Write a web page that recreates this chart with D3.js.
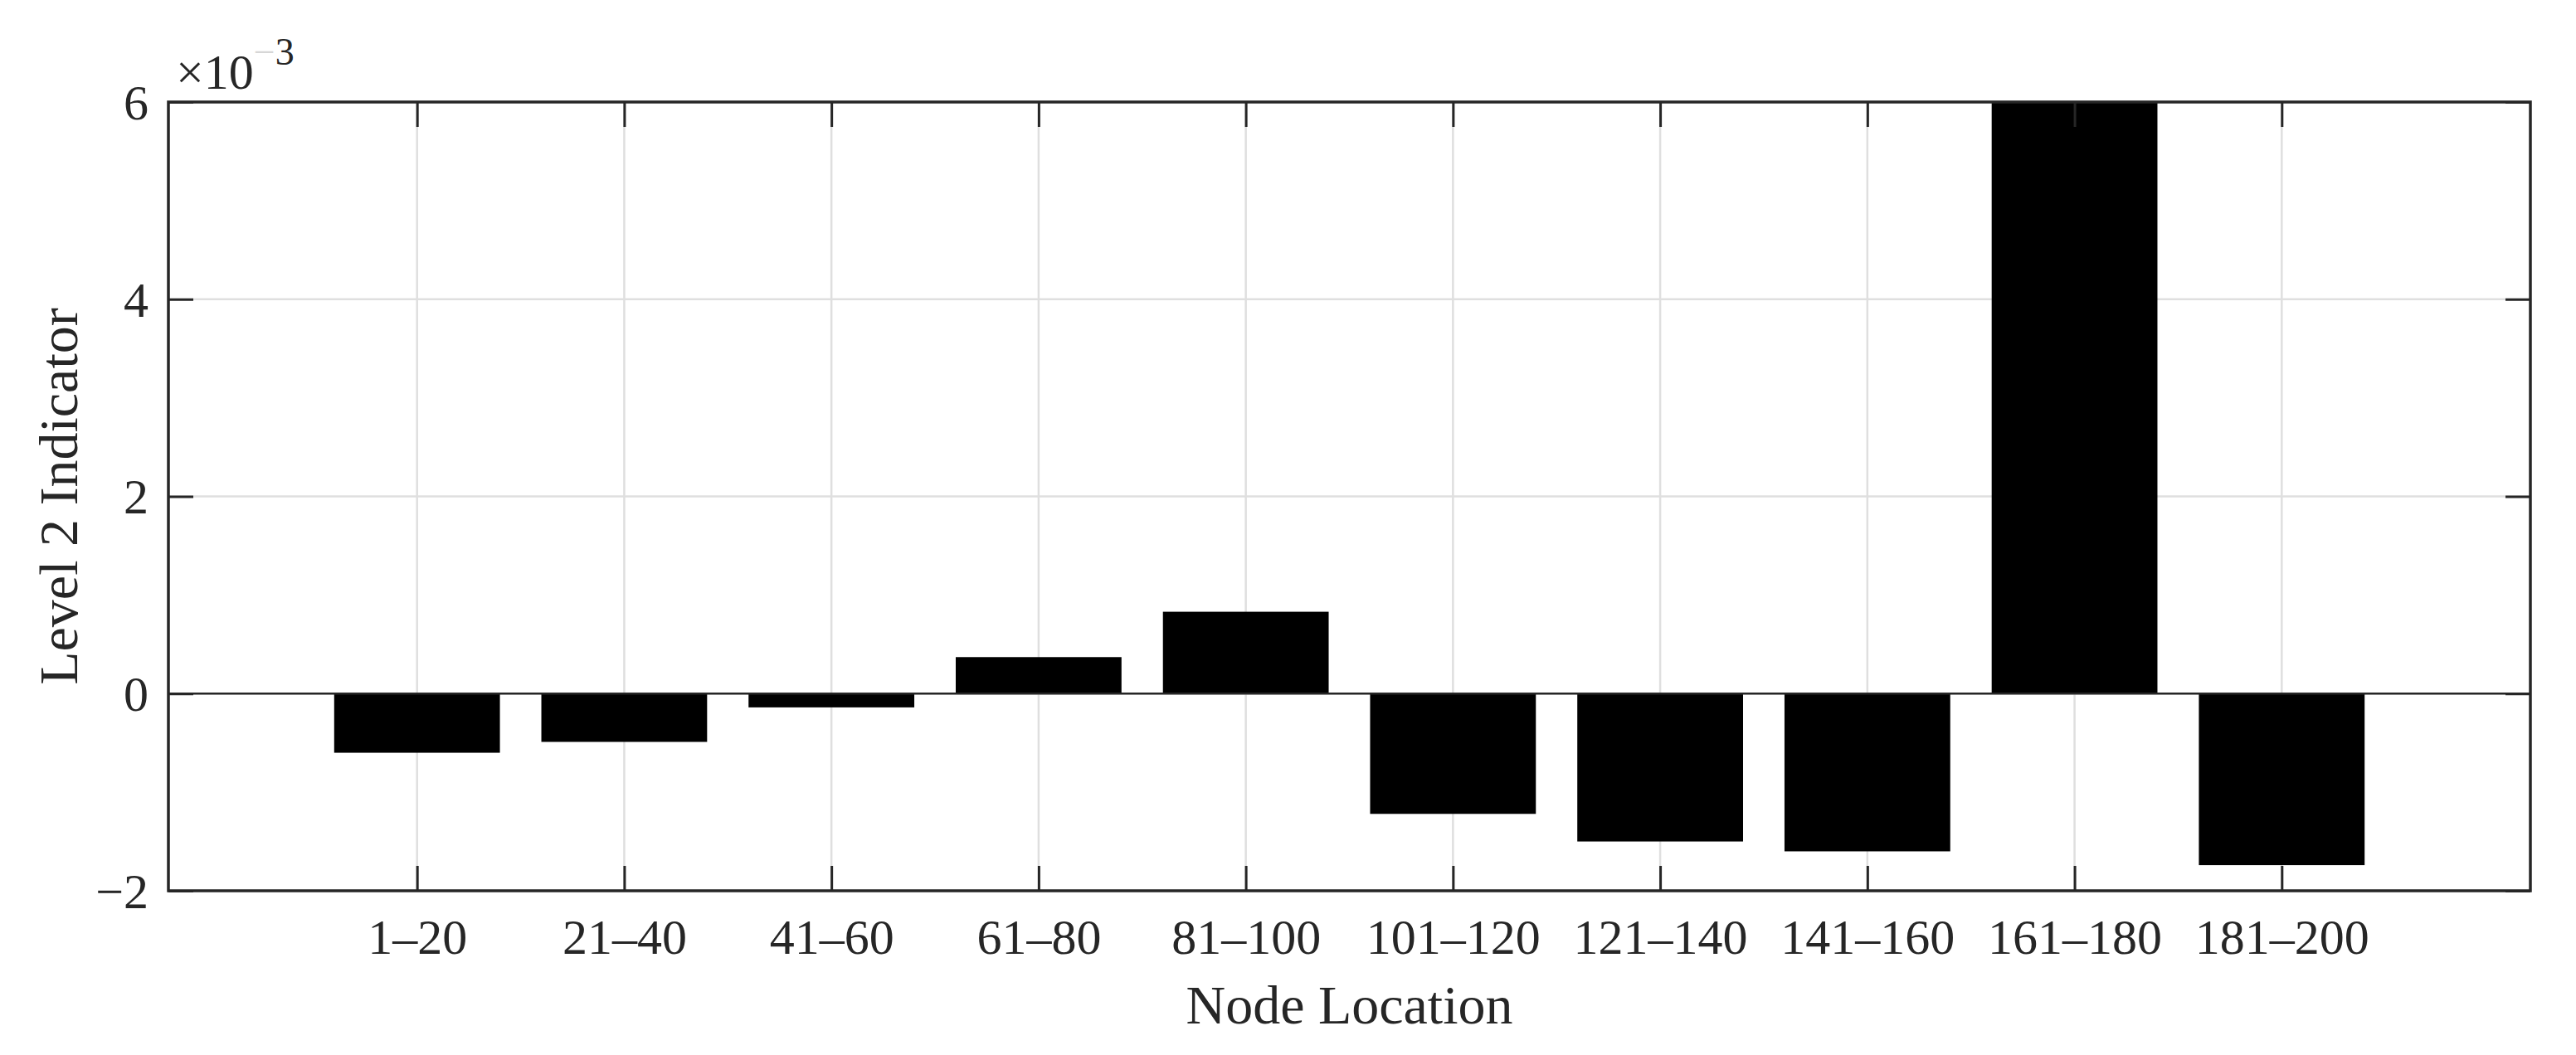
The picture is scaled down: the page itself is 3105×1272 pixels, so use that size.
<!DOCTYPE html>
<html>
<head>
<meta charset="utf-8">
<script src="https://cdn.jsdelivr.net/npm/d3@7/dist/d3.min.js"></script>
<style>
  html, body { margin: 0; padding: 0; background: #ffffff; }
  svg { display: block; }
  text { font-family: "Liberation Serif", "Times New Roman", serif; fill: #262626; }
</style>
</head>
<body>
<svg id="chart" width="3105" height="1272"></svg>
<script>
// ---- data ----
const categories = ["1–20", "21–40", "41–60", "61–80", "81–100", "101–120", "121–140", "141–160", "161–180", "181–200"];
const values = [-0.60e-3, -0.49e-3, -0.14e-3, 0.37e-3, 0.83e-3, -1.22e-3, -1.50e-3, -1.60e-3, 6.00e-3, -1.74e-3];
const yTicks = [-2e-3, 0, 2e-3, 4e-3, 6e-3];
const yTickLabels = ["−2", "0", "2", "4", "6"];
const xLabel = "Node Location";
const yLabel = "Level 2 Indicator";

// ---- layout ----
const W = 3105, H = 1272;
const m = { left: 203, right: 3050, top: 123, bottom: 1074 };
const axisColor = "#262626";
const gridColor = "#dfdfdf";
const tickLen = 30;

const svg = d3.select("#chart");

const x = d3.scaleLinear().domain([-0.2, categories.length + 1.2]).range([m.left, m.right]);
const y = d3.scaleLinear().domain([-2e-3, 6e-3]).range([m.bottom, m.top]);
const pos = (i) => x(i + 1);
const barW = x(0.8) - x(0);

// clip for plot area
svg.append("defs").append("clipPath").attr("id", "plotclip")
  .append("rect").attr("x", m.left).attr("y", m.top)
  .attr("width", m.right - m.left).attr("height", m.bottom - m.top);

// grid
const grid = svg.append("g");
grid.selectAll("line.gx").data(categories).enter().append("line")
  .attr("x1", (d, i) => pos(i)).attr("x2", (d, i) => pos(i))
  .attr("y1", m.top).attr("y2", m.bottom)
  .attr("stroke", gridColor).attr("stroke-width", 2.5);
grid.selectAll("line.gy").data(yTicks).enter().append("line")
  .attr("x1", m.left).attr("x2", m.right)
  .attr("y1", d => y(d)).attr("y2", d => y(d))
  .attr("stroke", gridColor).attr("stroke-width", 2.5);

// bars
svg.append("g").attr("clip-path", "url(#plotclip)")
  .selectAll("rect").data(values).enter().append("rect")
  .attr("x", (d, i) => pos(i) - barW / 2)
  .attr("width", barW)
  .attr("y", d => y(Math.max(0, d)))
  .attr("height", d => Math.abs(y(d) - y(0)))
  .attr("fill", "#000000");

// baseline at zero
svg.append("line")
  .attr("x1", m.left).attr("x2", m.right)
  .attr("y1", y(0)).attr("y2", y(0))
  .attr("stroke", axisColor).attr("stroke-width", 2.5);

// axes with inward ticks on all four sides
const xAxisB = d3.axisBottom(x).tickValues(categories.map((c, i) => i + 1))
  .tickFormat((d) => categories[d - 1]).tickSizeInner(-tickLen).tickSizeOuter(0).tickPadding(0);
const gxb = svg.append("g").attr("transform", `translate(0,${m.bottom})`).call(xAxisB);
gxb.select(".domain").remove();
gxb.selectAll(".tick line").attr("stroke", axisColor).attr("stroke-width", 3);
gxb.selectAll(".tick text").attr("font-size", 60).attr("y", 76).attr("dy", 0)
  .style("font-family", "'Liberation Serif', serif").attr("fill", axisColor);

const xAxisT = d3.axisTop(x).tickValues(categories.map((c, i) => i + 1))
  .tickFormat("").tickSizeInner(-tickLen).tickSizeOuter(0);
const gxt = svg.append("g").attr("transform", `translate(0,${m.top})`).call(xAxisT);
gxt.select(".domain").remove();
gxt.selectAll(".tick line").attr("stroke", axisColor).attr("stroke-width", 3);

const yAxisL = d3.axisLeft(y).tickValues(yTicks)
  .tickFormat((d, i) => yTickLabels[i]).tickSizeInner(-tickLen).tickSizeOuter(0).tickPadding(0);
const gyl = svg.append("g").attr("transform", `translate(${m.left},0)`).call(yAxisL);
gyl.select(".domain").remove();
gyl.selectAll(".tick line").attr("stroke", axisColor).attr("stroke-width", 3);
gyl.selectAll(".tick text").attr("font-size", 60).attr("x", -24).attr("dy", "0.34em")
  .style("font-family", "'Liberation Serif', serif").attr("fill", axisColor);

const yAxisR = d3.axisRight(y).tickValues(yTicks)
  .tickFormat("").tickSizeInner(-tickLen).tickSizeOuter(0);
const gyr = svg.append("g").attr("transform", `translate(${m.right},0)`).call(yAxisR);
gyr.select(".domain").remove();
gyr.selectAll(".tick line").attr("stroke", axisColor).attr("stroke-width", 3);

// box
svg.append("rect")
  .attr("x", m.left).attr("y", m.top)
  .attr("width", m.right - m.left).attr("height", m.bottom - m.top)
  .attr("fill", "none").attr("stroke", axisColor).attr("stroke-width", 3.5);

// exponent label
const ex = svg.append("text").attr("x", 212).attr("y", 107).attr("font-size", 60);
ex.append("tspan").text("×10");
ex.append("tspan").attr("font-size", 46).attr("dy", -29).attr("fill", "#d6d6d6").text("−");
ex.append("tspan").attr("font-size", 46).text("3");

// axis labels
svg.append("text")
  .attr("x", (m.left + m.right) / 2).attr("y", 1234)
  .attr("text-anchor", "middle").attr("font-size", 66)
  .text(xLabel);

svg.append("text")
  .attr("transform", `translate(93,${(m.top + m.bottom) / 2}) rotate(-90)`)
  .attr("text-anchor", "middle").attr("font-size", 66)
  .text(yLabel);
</script>
</body>
</html>
